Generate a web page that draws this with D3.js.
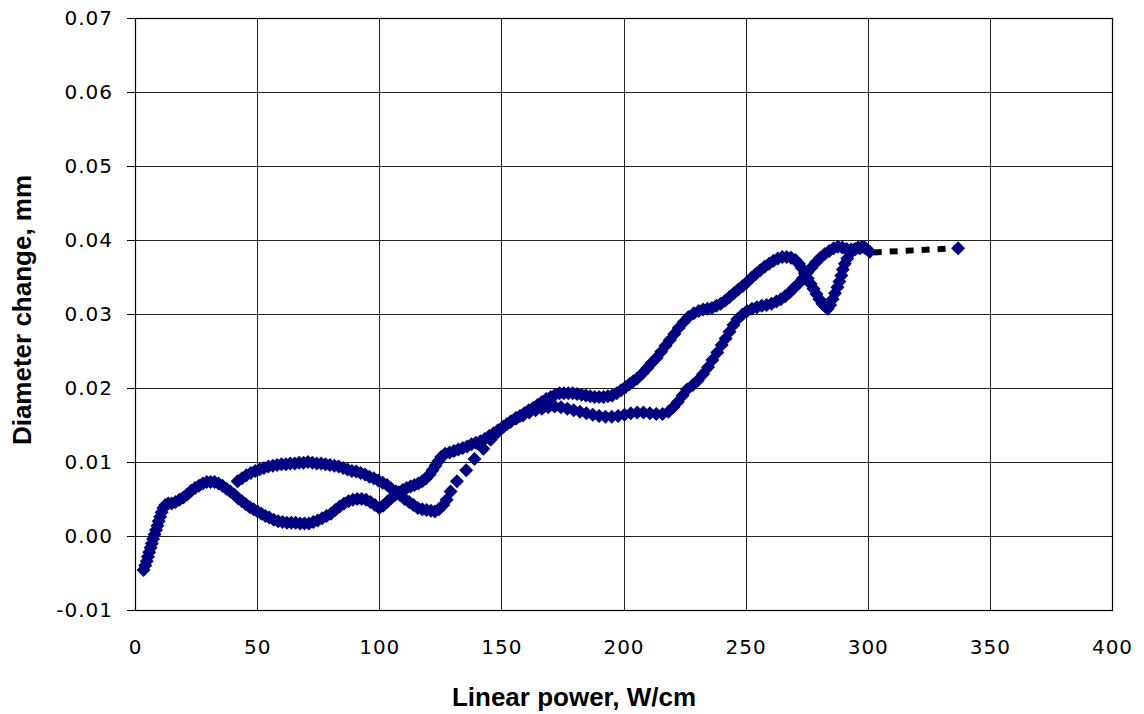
<!DOCTYPE html>
<html>
<head>
<meta charset="utf-8">
<script src="https://cdn.jsdelivr.net/npm/d3@7"></script>
<style>
  body { margin: 0; background: #fff; }
  .tick text { font-family: "DejaVu Sans", sans-serif; }
</style>
</head>
<body>
<div id="my_dataviz"></div>
<script>
// measured points, linear power (W/cm) vs diameter change (mm)
var branchA = [
  [3.5,-0.0046],[4.2,-0.0040],[4.8,-0.0034],[5.3,-0.0028],[5.8,-0.0022],[6.4,-0.0016],
  [6.9,-0.0010],[7.4,-0.0004],[8.0,0.0002],[8.6,0.0008],[9.2,0.0014],[9.7,0.0020],
  [10.3,0.0026],[10.9,0.0032],[11.6,0.0038],[12.4,0.0042],[13.6,0.0044],[15.0,0.0044],
  [16.6,0.0046],[18.2,0.0049],[19.8,0.0052],[21.4,0.0056],[23.0,0.0061],[24.6,0.0065],
  [26.2,0.0068],[27.8,0.0071],[29.4,0.0073],[31.0,0.0073],[32.6,0.0073],[34.2,0.0071],
  [35.8,0.0068],[37.4,0.0064],[39.0,0.0060],[40.6,0.0056],[42.2,0.0051],[43.8,0.0047],
  [45.4,0.0043],[47.0,0.0039],[48.6,0.0036],[50.2,0.0033],[51.8,0.0030],[53.4,0.0027],
  [55.0,0.0025],[56.8,0.0022],[58.6,0.0020],[60.4,0.0019],[62.2,0.0018],[64.0,0.0018],
  [65.8,0.0018],[67.6,0.0017],[69.4,0.0017],[71.2,0.0017],[73.0,0.0019],[74.8,0.0021],
  [76.6,0.0024],[78.4,0.0027],[80.2,0.0030],[82.0,0.0035],[83.8,0.0040],[85.6,0.0044],
  [87.4,0.0047],[89.2,0.0049],[91.0,0.0050],[92.8,0.0050],[94.6,0.0049],[96.4,0.0046],
  [98.2,0.0042],[100.0,0.0038],[101.6,0.0041],[103.2,0.0046],[104.8,0.0051],[106.4,0.0055],
  [108.0,0.0059],[109.6,0.0062],[111.2,0.0065],[112.8,0.0067],[114.4,0.0069],[116.0,0.0071],
  [117.6,0.0074],[119.2,0.0078],[120.6,0.0083],[121.8,0.0089],[123.0,0.0095],[124.2,0.0101],
  [125.4,0.0107],[127.0,0.0111],[128.8,0.0113],[130.6,0.0115],[132.4,0.0117],[134.2,0.0119],
  [136.0,0.0121],[137.8,0.0124],[139.6,0.0126],[141.4,0.0128],[143.2,0.0131],[145.0,0.0135],
  [146.8,0.0139],[148.6,0.0143],[150.4,0.0147],[152.2,0.0151],[154.0,0.0155],[155.8,0.0159],
  [157.6,0.0162],[159.4,0.0166],[161.2,0.0170],[163.0,0.0173],[164.8,0.0177],[166.6,0.0181],
  [168.4,0.0185],[170.2,0.0188],[172.0,0.0191],[173.8,0.0193],[175.6,0.0193],[177.4,0.0193],
  [179.2,0.0193],[181.0,0.0192],[182.8,0.0191],[184.6,0.0190],[186.4,0.0189],[188.2,0.0188],
  [190.0,0.0188],[191.8,0.0188],[193.6,0.0189],[195.4,0.0190],[197.2,0.0193],[199.0,0.0197],
  [200.8,0.0201],[202.4,0.0205],[204.0,0.0209],[205.6,0.0213],[207.8,0.0220],[209.8,0.0227],
  [211.6,0.0234],[213.6,0.0241],[215.4,0.0249],[217.2,0.0257],[219.0,0.0265],[220.8,0.0273],
  [222.6,0.0281],[224.6,0.0289],[226.6,0.0296],[228.8,0.0301],[230.8,0.0304],[232.6,0.0306],
  [234.4,0.0307],[236.2,0.0308],[238.0,0.0311],[239.8,0.0314],[241.6,0.0318],[243.4,0.0323],
  [245.2,0.0328],[247.0,0.0333],[248.8,0.0338],[250.6,0.0343],[252.4,0.0349],[254.2,0.0354],
  [256.0,0.0359],[257.8,0.0364],[259.6,0.0368],[261.4,0.0372],[263.2,0.0375],[265.0,0.0377],
  [266.8,0.0377],[268.6,0.0376],[270.4,0.0373],[271.8,0.0368],[273.0,0.0362],[274.2,0.0355],
  [275.4,0.0348],[276.6,0.0341],[277.8,0.0334],[279.0,0.0327],[280.2,0.0320],[281.4,0.0314],
  [282.6,0.0310],[283.6,0.0307],[284.6,0.0312],[285.6,0.0320],[286.6,0.0328],[287.6,0.0336],
  [288.4,0.0344],[289.2,0.0352],[289.8,0.0360],[290.6,0.0368],[291.6,0.0375],[292.8,0.0382],
  [294.4,0.0387],[296.0,0.0390],[297.6,0.0391],[299.2,0.0389],[300.8,0.0384]
];

var branchB = [
  [42.0,0.0074],[43.8,0.0078],[45.6,0.0082],[47.4,0.0085],[49.2,0.0088],[51.0,0.0090],
  [52.8,0.0092],[54.6,0.0094],[56.4,0.0095],[58.2,0.0096],[60.0,0.0097],[61.8,0.0097],
  [63.6,0.0098],[65.4,0.0098],[67.2,0.0099],[69.0,0.0099],[70.8,0.0100],[72.6,0.0099],
  [74.4,0.0098],[76.2,0.0098],[78.0,0.0097],[79.8,0.0096],[81.6,0.0095],[83.4,0.0094],
  [85.2,0.0092],[87.0,0.0090],[88.8,0.0088],[90.6,0.0087],[92.4,0.0085],[94.2,0.0083],
  [96.0,0.0080],[97.8,0.0078],[99.6,0.0075],[101.4,0.0072],[103.2,0.0069],[105.0,0.0064],
  [106.8,0.0060],[108.6,0.0055],[110.4,0.0050],[112.2,0.0046],[114.0,0.0042],[115.8,0.0038],
  [117.6,0.0036],[119.4,0.0035],[121.2,0.0034],[122.8,0.0033],[124.4,0.0036],[126.2,0.0042],
  [127.6,0.0049],[129.2,0.0060],[131.8,0.0074],[135.6,0.0089],[139.0,0.0104],[142.6,0.0118],
  [145.6,0.0130],[148.4,0.0140],[151.0,0.0148],[153.6,0.0154],[156.2,0.0159],[158.8,0.0163],
  [161.4,0.0167],[164.0,0.0170],[166.6,0.0172],[169.2,0.0174],[171.8,0.0175],[174.4,0.0174],
  [177.0,0.0172],[179.6,0.0170],[182.2,0.0168],[184.8,0.0166],[187.4,0.0164],[190.0,0.0162],
  [192.6,0.0161],[195.2,0.0161],[197.8,0.0162],[200.4,0.0164],[203.0,0.0166],[205.6,0.0167],
  [208.2,0.0167],[210.8,0.0166],[213.4,0.0165],[216.0,0.0165],[218.4,0.0168],[220.4,0.0174],
  [222.2,0.0181],[224.2,0.0190],[226.0,0.0198],[228.4,0.0204],[230.4,0.0210],[232.6,0.0219],
  [234.6,0.0228],[236.4,0.0238],[238.4,0.0248],[240.2,0.0258],[241.8,0.0267],[243.4,0.0276],
  [245.0,0.0285],[246.6,0.0293],[248.6,0.0299],[250.6,0.0304],[252.6,0.0307],[254.6,0.0309],
  [256.6,0.0311],[258.6,0.0312],[260.6,0.0314],[262.6,0.0317],[264.4,0.0320],[266.2,0.0324],
  [268.0,0.0329],[269.8,0.0335],[271.6,0.0341],[273.4,0.0348],[275.2,0.0356],[277.0,0.0363],
  [278.8,0.0370],[280.6,0.0376],[282.4,0.0381],[284.2,0.0385],[286.0,0.0389],[287.8,0.0391],
  [289.6,0.0390],[291.4,0.0388],[293.2,0.0387],[295.0,0.0388],[296.8,0.0389],[298.6,0.0390]
];

// dotted extension up to the last point
var tailLine = [[300.8,0.0383],[337.0,0.0389]];
var tailPoint = [[337.0,0.0389]];

var xTickValues = [0, 50, 100, 150, 200, 250, 300, 350, 400];
var yTickValues = [-0.01, 0.00, 0.01, 0.02, 0.03, 0.04, 0.05, 0.06, 0.07];

var margin = {top: 18, right: 32, bottom: 104, left: 135},
    width = 1144 - margin.left - margin.right,
    height = 714 - margin.top - margin.bottom;

var root = d3.select("#my_dataviz")
  .append("svg")
  .attr("width", 1144)
  .attr("height", 714);

var svg = root.append("g")
  .attr("transform", "translate(" + margin.left + "," + margin.top + ")");

var x = d3.scaleLinear().domain([0, 400]).range([0, width]);
var y = d3.scaleLinear().domain([-0.01, 0.07]).range([height, 0]);

// grid
svg.append("g")
  .selectAll("line")
  .data(xTickValues)
  .enter().append("line")
  .attr("x1", function (d) { return Math.round(x(d)) + 0.5; })
  .attr("x2", function (d) { return Math.round(x(d)) + 0.5; })
  .attr("y1", 0)
  .attr("y2", height)
  .attr("stroke", "#222")
  .attr("stroke-width", 1);

svg.append("g")
  .selectAll("line")
  .data(yTickValues)
  .enter().append("line")
  .attr("x1", 0)
  .attr("x2", width)
  .attr("y1", function (d) { return Math.round(y(d)) + 0.5; })
  .attr("y2", function (d) { return Math.round(y(d)) + 0.5; })
  .attr("stroke", "#222")
  .attr("stroke-width", 1);

svg.append("rect")
  .attr("x", 0.5).attr("y", 0.5)
  .attr("width", width).attr("height", height)
  .attr("fill", "none")
  .attr("stroke", "#000")
  .attr("stroke-width", 1.2);

// axes
var fmt = function (d) { return d3.format(".2f")(d).replace("\u2212", "-"); };

var yAxis = svg.append("g")
  .call(d3.axisLeft(y).tickValues(yTickValues).tickFormat(fmt).tickSize(8).tickPadding(14));
yAxis.select(".domain").remove();
yAxis.selectAll("line").attr("stroke", "#000");
yAxis.selectAll("text").attr("font-size", 20).attr("fill", "#000").attr("letter-spacing", 1);

var xAxis = svg.append("g")
  .attr("transform", "translate(0," + height + ")")
  .call(d3.axisBottom(x).tickValues(xTickValues).tickSize(0).tickPadding(30));
xAxis.select(".domain").remove();
xAxis.selectAll("text").attr("font-size", 20).attr("fill", "#000").attr("letter-spacing", 1);

// titles
root.append("text")
  .attr("x", 574)
  .attr("y", 706)
  .attr("text-anchor", "middle")
  .attr("font-family", "Liberation Sans, Arial, sans-serif")
  .attr("font-weight", "bold")
  .attr("font-size", 26)
  .text("Linear power, W/cm");

root.append("text")
  .attr("transform", "translate(31,310) rotate(-90)")
  .attr("text-anchor", "middle")
  .attr("font-family", "Liberation Sans, Arial, sans-serif")
  .attr("font-weight", "bold")
  .attr("font-size", 26)
  .text("Diameter change, mm");

// dotted extension
svg.append("path")
  .datum(tailLine)
  .attr("fill", "none")
  .attr("stroke", "#000")
  .attr("stroke-width", 6)
  .attr("stroke-dasharray", "8,8")
  .attr("stroke-dashoffset", -4)
  .attr("d", d3.line()
    .x(function (d) { return x(d[0]); })
    .y(function (d) { return y(d[1]); }));

// diamond markers
var diamond = "M0,-7L7,0L0,7L-7,0Z";
var allPoints = branchA.concat(branchB).concat(tailPoint);

svg.append("g")
  .selectAll("path")
  .data(allPoints)
  .enter().append("path")
  .attr("d", diamond)
  .attr("transform", function (d) {
    return "translate(" + x(d[0]) + "," + y(d[1]) + ")";
  })
  .attr("fill", "#000080");
</script>
</body>
</html>
